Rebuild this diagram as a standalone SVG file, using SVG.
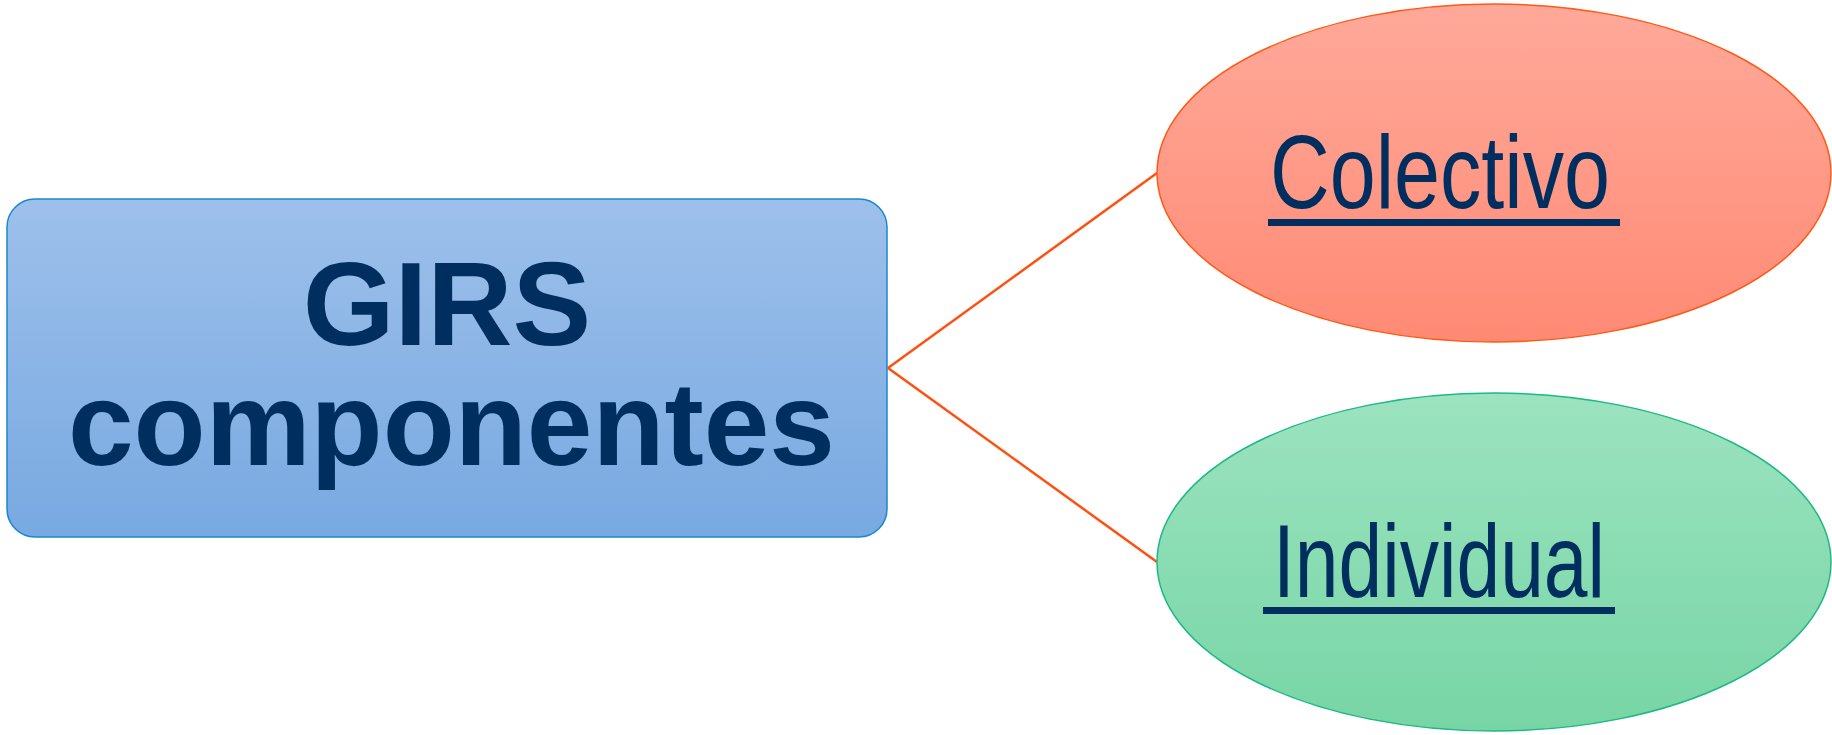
<svg xmlns="http://www.w3.org/2000/svg" width="1832" height="735" viewBox="0 0 1832 735">
  <defs>
    <linearGradient id="gBlue" x1="0" y1="0" x2="0" y2="1">
      <stop offset="0" stop-color="#9DC0EB"/>
      <stop offset="1" stop-color="#78A9E1"/>
    </linearGradient>
    <linearGradient id="gRed" x1="0" y1="0" x2="0" y2="1">
      <stop offset="0" stop-color="#FFA99A"/>
      <stop offset="1" stop-color="#FF8A74"/>
    </linearGradient>
    <linearGradient id="gGreen" x1="0" y1="0" x2="0" y2="1">
      <stop offset="0" stop-color="#9CE3C0"/>
      <stop offset="1" stop-color="#77D5A5"/>
    </linearGradient>
  </defs>
  <style>
    .lbl { font-family: "Liberation Sans", Arial, sans-serif; fill: #002E5E; }
    .bold { font-weight: bold; font-size: 118px; }
    .leaf { font-size: 103px; }
    .conn { stroke: #FF5010; stroke-width: 2.5; fill: none; }
  </style>
  <g id="connectors">
    <line class="conn" x1="888" y1="368" x2="1157" y2="173"/>
    <line class="conn" x1="888" y1="368" x2="1157" y2="562"/>
  </g>
  <g id="girs">
    <rect x="7" y="199" width="880" height="338" rx="28" ry="28" fill="url(#gBlue)" stroke="#1C87CF" stroke-width="1.5"/>
    <text class="lbl bold" x="447" y="345" text-anchor="middle">GIRS</text>
    <text class="lbl bold" x="68" y="465" textLength="767" lengthAdjust="spacingAndGlyphs">componentes</text>
  </g>
  <g id="colectivo">
    <ellipse cx="1494" cy="173" rx="337" ry="169" fill="url(#gRed)" stroke="#FF5A14" stroke-width="1.5"/>
    <text class="lbl leaf" x="1270" y="208" textLength="340" lengthAdjust="spacingAndGlyphs">Colectivo</text>
    <rect x="1268" y="219" width="352" height="7" fill="#002E5E"/>
  </g>
  <g id="individual">
    <ellipse cx="1494" cy="562" rx="337" ry="169" fill="url(#gGreen)" stroke="#1DB983" stroke-width="1.5"/>
    <text class="lbl leaf" x="1273" y="597" textLength="332" lengthAdjust="spacingAndGlyphs">Individual</text>
    <rect x="1263" y="607" width="352" height="7" fill="#002E5E"/>
  </g>
</svg>
